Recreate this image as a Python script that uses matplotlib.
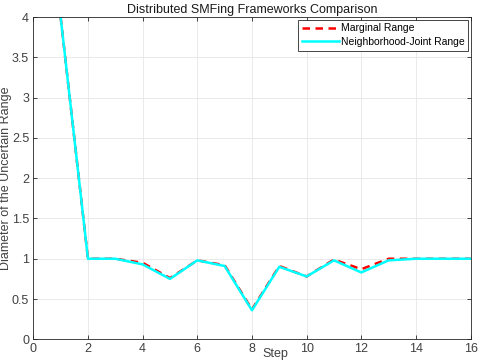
import matplotlib
matplotlib.use('Agg')
import matplotlib.pyplot as plt
import numpy as np

plt.rcParams['font.family'] = ['Liberation Sans', 'DejaVu Sans']

# Data
# ----------------------------------------------------------------------------

steps = np.arange(1, 17)
marginal = [4.0, 1.0, 1.0, 0.95, 0.76, 0.98, 0.92, 0.37, 0.91, 0.78, 0.99,
            0.87, 1.0, 1.0, 1.0, 1.0]
joint = [4.0, 1.0, 1.0, 0.93, 0.75, 0.98, 0.91, 0.36, 0.90, 0.78, 0.98,
         0.83, 0.98, 1.0, 1.0, 1.0]

xticks = np.arange(0, 17, 2)
yticks = np.arange(0, 4.01, 0.5)
ytick_labels = ['0', '0.5', '1', '1.5', '2', '2.5', '3', '3.5', '4']

# Plot
# ----------------------------------------------------------------------------

fig = plt.figure(figsize=(4.79, 3.64), dpi=100)
ax = fig.add_axes([0.0695, 0.0679, 0.913, 0.885])

ax.plot(steps, marginal, '--', color='red', lw=1.8, dashes=(3, 2.2),
        label='Marginal Range')
ax.plot(steps, joint, '-', color='cyan', lw=1.8, label='Neighborhood-Joint Range')

ax.set_xlim(0, 16)
ax.set_ylim(0, 4)
ax.set_xticks(xticks)
ax.set_yticks(yticks)
ax.set_yticklabels(ytick_labels)

ax.grid(True, color='0.9', lw=0.6)
ax.set_axisbelow(True)
ax.tick_params(direction='in', top=True, right=True, color='0.15',
               labelcolor='0.25', labelsize=9, length=3, width=0.6, pad=3)
for s in ax.spines.values():
    s.set_color('0.15')
    s.set_linewidth(0.6)

ax.set_title('Distributed SMFing Frameworks Comparison', fontsize=9,
             color='0.1', pad=3)
ax.set_xlabel('Step', fontsize=9, color='0.25', va='center')
ax.xaxis.set_label_coords(0.553, -0.045)
ax.set_ylabel('Diameter of the Uncertain Range', fontsize=9, color='0.25',
              va='center')
ax.yaxis.set_label_coords(-0.063, 0.5)

leg = ax.legend(loc='upper right', fontsize=7.5, handlelength=3.5,
                fancybox=False, framealpha=1, borderaxespad=0.25,
                borderpad=0.35, labelspacing=0.35, handletextpad=0.2)
leg.get_frame().set_edgecolor('0.15')
leg.get_frame().set_linewidth(0.6)

fig.savefig('out.png', dpi=100)
